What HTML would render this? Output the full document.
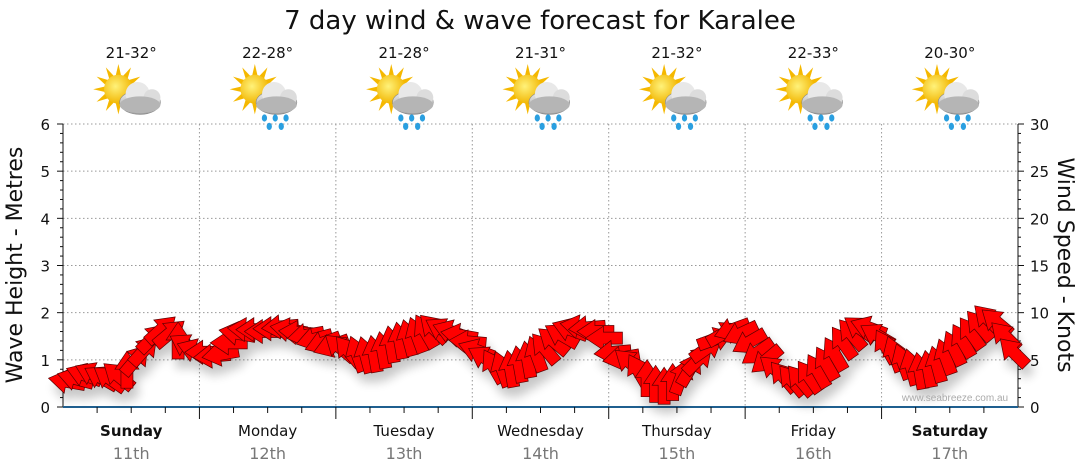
<!DOCTYPE html>
<html><head><meta charset="utf-8">
<style>
body{margin:0;background:#fff;}
svg{display:block;font-family:"DejaVu Sans","Liberation Sans",sans-serif;}
</style></head>
<body>
<svg id="chart" width="1080" height="475" viewBox="0 0 1080 475" xmlns="http://www.w3.org/2000/svg">
<defs>
<filter id="shadow" x="-20%" y="-50%" width="140%" height="200%">
<feGaussianBlur in="SourceAlpha" stdDeviation="5"/>
<feOffset dx="4" dy="9" result="b"/>
<feComponentTransfer><feFuncA type="linear" slope="0.22"/></feComponentTransfer>
<feMerge><feMergeNode/><feMergeNode in="SourceGraphic"/></feMerge>
</filter>
<radialGradient id="sunG" cx="0.4" cy="0.4" r="0.6"><stop offset="0" stop-color="#fff27a"/><stop offset="1" stop-color="#f2b705"/></radialGradient>
<linearGradient id="cloudG" x1="0" y1="0" x2="0" y2="1"><stop offset="0" stop-color="#f2f2f2"/><stop offset="1" stop-color="#9a9a9a"/></linearGradient>
</defs>
<text x="540" y="29" font-size="26" text-anchor="middle" fill="#111">7 day wind &amp; wave forecast for Karalee</text>
<g id="grid"></g>
<g id="axes"></g>
<g id="icons"></g>
<g id="arrows" filter="url(#shadow)"></g>
<text x="955" y="401" font-size="10" text-anchor="middle" fill="#aaa" font-family="Liberation Sans, sans-serif">www.seabreeze.com.au</text>
<text transform="translate(22,265) rotate(-90)" font-size="22" text-anchor="middle" fill="#111">Wave Height - Metres</text>
<text transform="translate(1058,265) rotate(90)" font-size="22" text-anchor="middle" fill="#111">Wind Speed - Knots</text>
</svg>
<script>
const days = ["Sunday","Monday","Tuesday","Wednesday","Thursday","Friday","Saturday"];
const dates = ["11th","12th","13th","14th","15th","16th","17th"];
const temps = ["21-32°","22-28°","21-28°","21-31°","21-32°","22-33°","20-30°"];
const rainy = [false,true,true,true,true,true,true];
const waveTicks = [0,1,2,3,4,5,6];
const windTicks = [0,5,10,15,20,25,30];
const windSpeed = [
2.7,3.0,3.4,3.5,3.1,3.0,3.3,3.9,5.0,6.0,7.3,8.2,7.8,7.0,6.5,6.0,
5.8,5.4,5.6,6.8,7.8,8.2,8.2,8.0,8.3,8.5,8.2,7.9,7.6,7.2,6.8,6.5,
6.3,5.9,5.6,5.5,5.6,6.0,6.6,7.0,7.3,7.6,8.0,8.3,8.2,8.0,7.6,6.9,
6.0,5.2,4.3,4.0,4.0,4.5,5.0,5.6,6.2,7.0,7.6,8.2,8.5,8.4,8.0,7.3,
5.8,5.2,4.7,3.8,3.0,2.4,2.2,2.6,3.2,4.0,5.0,6.2,7.2,7.8,8.2,7.8,
6.9,5.8,5.0,4.0,3.2,2.8,2.8,3.2,3.8,4.6,5.6,6.8,7.7,8.3,8.4,7.6,
6.4,5.6,4.8,4.2,3.8,4.0,4.5,5.3,6.2,7.0,7.8,8.6,9.3,9.0,7.5,5.8];
const windDir = [
-170,-165,-160,-155,-150,-145,-140,-90,-50,-48,-45,-42,-40,-90,-150,-160,
180,175,170,180,-170,-175,180,180,180,175,-170,-175,170,165,160,160,
-140,-130,-110,-105,-100,-100,-100,-100,-105,-110,-120,-135,-150,-160,-170,-175,
-160,-150,-120,-110,-100,-100,-100,-110,-130,-140,-150,-160,-170,175,180,180,
175,170,-140,-120,-90,-90,-90,-90,-70,-60,-45,-35,-20,-30,160,155,
150,145,140,-140,-130,-130,-130,-125,-120,-120,-120,-125,-130,-145,-160,-150,
-120,-110,-110,-105,-100,-100,-105,-110,-115,-120,-125,-130,-135,-140,-135,-135];

const NS="http://www.w3.org/2000/svg";
const X0=63, X1=1018, Y0=407, Y1=124;
const dayW=(X1-X0)/7;
const yWave=v=>Y0-(v/6)*(Y0-Y1);
const yWind=v=>Y0-(v/30)*(Y0-Y1);
const xStep=i=>X0+dayW/32+i*dayW/16;
function mk(tag,attrs,parent){const e=document.createElementNS(NS,tag);for(const k in attrs)e.setAttribute(k,attrs[k]);parent.appendChild(e);return e;}
const grid=document.getElementById('grid'), axes=document.getElementById('axes'), icons=document.getElementById('icons'), arrows=document.getElementById('arrows');

waveTicks.forEach((v,i)=>{
  if(v>0){const l=mk('line',{x1:X0,x2:X1,y1:yWave(v),y2:yWave(v),stroke:'#999','stroke-dasharray':'1.5 2.5'},grid);
  }
  const t=mk('text',{x:50,y:yWave(v)+6,'font-size':15,'text-anchor':'end',fill:'#111'},axes);t.textContent=v;
  
  mk('line',{x1:X0,x2:X0-6,y1:yWave(v),y2:yWave(v),stroke:'#111'},axes);
});
for(let k=0;k<30;k++){if(k%5)mk('line',{x1:X0,x2:X0-3,y1:yWind(k),y2:yWind(k),stroke:'#111'},axes);}
windTicks.forEach(v=>{
  const t=mk('text',{x:1030,y:yWind(v)+6,'font-size':15,'text-anchor':'start',fill:'#111'},axes);t.textContent=v;
  
  mk('line',{x1:X1,x2:X1+6,y1:yWind(v),y2:yWind(v),stroke:'#111'},axes);
});
for(let k=0;k<30;k++){if(k%5)mk('line',{x1:X1,x2:X1+3,y1:yWind(k),y2:yWind(k),stroke:'#111'},axes);}
mk('line',{x1:X0,x2:X0,y1:Y1,y2:Y0,stroke:'#111'},axes);
mk('line',{x1:X1,x2:X1,y1:Y1,y2:Y0,stroke:'#111'},axes);
mk('line',{x1:X0,x2:X1,y1:Y0,y2:Y0,stroke:'#1f5f8f','stroke-width':2},axes);
for(let q=1;q<28;q++){const x=X0+q*dayW/4;mk('line',{x1:x,x2:x,y1:Y0,y2:Y0+(q%4?6:12),stroke:'#111'},axes);}

days.forEach((d,i)=>{
  const cx=X0+dayW*(i+0.5);
  if(i>0){const l=mk('line',{x1:X0+dayW*i,x2:X0+dayW*i,y1:Y1,y2:Y0,stroke:'#999','stroke-dasharray':'1.5 2.5'},grid);
  }
  const t=mk('text',{x:cx,y:436,'font-size':15,'text-anchor':'middle',fill:'#111','font-weight':(i==0||i==6)?'bold':'normal'},axes);t.textContent=d;
  
  const t2=mk('text',{x:cx,y:459,'font-size':16,'text-anchor':'middle',fill:'#777'},axes);t2.textContent=dates[i];
  
  const t3=mk('text',{x:cx,y:58,'font-size':15,'text-anchor':'middle',fill:'#111'},icons);t3.textContent=temps[i];
  
  const g=mk('g',{transform:`translate(${cx+4},94) scale(1.2)`},icons);
  
  for(let r=0;r<12;r++){const a=r*30*Math.PI/180;mk('polygon',{points:`${-14+21*Math.cos(a)},${-4+21*Math.sin(a)} ${-14+11*Math.cos(a+0.22)},${-4+11*Math.sin(a+0.22)} ${-14+11*Math.cos(a-0.22)},${-4+11*Math.sin(a-0.22)}`,fill:'#f5b800'},g);}
  mk('circle',{cx:-14,cy:-4,r:12,fill:'url(#sunG)'},g);
  mk('ellipse',{cx:4,cy:7,rx:17,ry:10,fill:'url(#cloudG)',stroke:'#888','stroke-width':0.5},g);
  mk('circle',{cx:2,cy:0,r:10,fill:'#e8e8e8'},g);
  mk('circle',{cx:14,cy:3,r:7,fill:'#dcdcdc'},g);
  mk('ellipse',{cx:4,cy:9,rx:17,ry:7,fill:'#b5b5b5'},g);
  if(rainy[i]){[[-6,20],[3,20],[12,20],[-2,27],[8,27]].forEach(p=>mk('ellipse',{cx:p[0],cy:p[1],rx:2.2,ry:3,fill:'#2a9fe0'},g));}
});

windSpeed.forEach((v,i)=>{
  const x=xStep(i), y=yWind(v);
  const p=mk('polygon',{points:'-18,-6 1,-6 1,-12 19,0 1,12 1,6 -18,6',fill:'#ff0000',stroke:'#5a0000','stroke-width':0.7,transform:`translate(${x},${y}) rotate(${windDir[i]})`},arrows);
  
  
});
</script>
</body></html>
